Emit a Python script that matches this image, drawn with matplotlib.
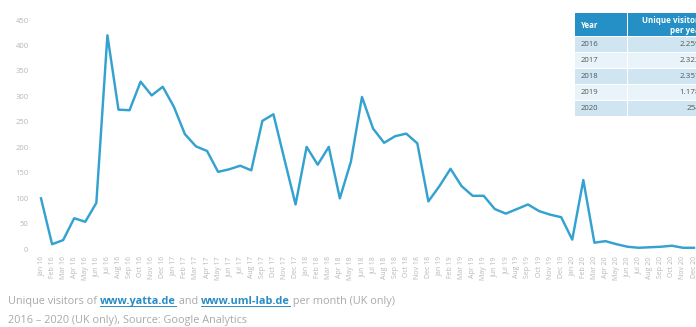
import matplotlib
matplotlib.use("Agg")
import matplotlib.pyplot as plt
from matplotlib.patches import Rectangle
from matplotlib.lines import Line2D

# ---------------- data ----------------
month_labels = [
    "Jan 16", "Feb 16", "Mar 16", "Apr 16", "May 16", "Jun 16", "Jul 16", "Aug 16", "Sep 16", "Oct 16", "Nov 16", "Dec 16",
    "Jan 17", "Feb 17", "Mar 17", "Apr 17", "May 17", "Jun 17", "Jul 17", "Aug 17", "Sep 17", "Oct 17", "Nov 17", "Dec 17",
    "Jan 18", "Feb 18", "Mar 18", "Apr 18", "May 18", "Jun 18", "Jul 18", "Aug 18", "Sep 18", "Oct 18", "Nov 18", "Dec 18",
    "Jan 19", "Feb 19", "Mar 19", "Apr 19", "May 19", "Jun 19", "Jul 19", "Aug 19", "Sep 19", "Oct 19", "Nov 19", "Dec 19",
    "Jan 20", "Feb 20", "Mar 20", "Apr 20", "May 20", "Jun 20", "Jul 20", "Aug 20", "Sep 20", "Oct 20", "Nov 20", "Dec 20",
]
visitors = [
    100, 10, 18, 61, 54, 91, 420, 274, 273, 329, 302, 319,
    280, 226, 202, 193, 152, 157, 164, 155, 252, 265, 176, 88,
    201, 166, 201, 100, 172, 299, 237, 209, 222, 227, 208, 94,
    124, 158, 124, 105, 105, 79, 70, 79, 88, 75, 68, 63,
    19, 136, 13, 16, 10, 5, 3, 4, 5, 7, 3, 3,
]
y_ticks = [0, 50, 100, 150, 200, 250, 300, 350, 400, 450]
table_header = ["Year", "Unique visitors\nper year"]
table_years = ["2016", "2017", "2018", "2019", "2020"]
table_values = ["2.259", "2.322", "2.357", "1.178", "254"]
caption_line1 = [("Unique visitors of ", False), ("www.yatta.de", True), (" and ", False),
                 ("www.uml-lab.de", True), (" per month (UK only)", False)]
caption_line2 = "2016 \u2013 2020 (UK only), Source: Google Analytics"

# ---------------- style ----------------
W, H = 696, 327
FONT = "Open Sans"
LINE_C = "#34a2d0"
TICK_C = "#b8b8b8"
CAP_C = "#a9a9a9"
LINK_C = "#2a8cc4"

plt.rcParams["font.family"] = [FONT, "DejaVu Sans"]

fig = plt.figure(figsize=(W / 100, H / 100), dpi=100)
fig.patch.set_facecolor("white")


def fx(x):
    return x / W


def fy(y):
    return 1 - y / H


x_left, x_right = 41, 694
y_top, y_bot = 20.0, 249.3
ax = fig.add_axes([fx(x_left), fy(y_bot), (x_right - x_left) / W, (y_bot - y_top) / H])
xs = list(range(len(visitors)))
ax.plot(xs, visitors, color=LINE_C, lw=1.75, clip_on=False, solid_joinstyle="round")
ax.set_xlim(0, len(visitors) - 1)
ax.set_ylim(0, 450)
for s in ax.spines.values():
    s.set_visible(False)
ax.set_yticks(y_ticks)
ax.set_yticklabels([str(v) for v in y_ticks])
ax.set_xticks(xs)
ax.set_xticklabels(month_labels, rotation=90)
ax.tick_params(axis="y", length=0, pad=9, labelsize=5.5, labelcolor=TICK_C)
ax.tick_params(axis="x", length=0, pad=5, labelsize=5.0, labelcolor=TICK_C)
ax.set_facecolor("none")

# ---------------- table ----------------
tx0, tsplit, tx1 = 575, 627.5, 712
hdr_top, hdr_bot = 13, 36
row_h = 16
hdr_c = "#2590c5"
row_cs = ["#cfe6f2", "#e9f4fa"]
fig.add_artist(Rectangle((fx(tx0), fy(hdr_bot)), (tsplit - tx0 - 0.5) / W, (hdr_bot - hdr_top) / H,
                         transform=fig.transFigure, facecolor=hdr_c, edgecolor="none"))
fig.add_artist(Rectangle((fx(tsplit + 0.5), fy(hdr_bot)), (tx1 - tsplit) / W, (hdr_bot - hdr_top) / H,
                         transform=fig.transFigure, facecolor=hdr_c, edgecolor="none"))
fig.text(fx(581), fy(25), table_header[0], color="white", fontsize=5.6, fontweight="bold",
         ha="left", va="center")
fig.text(fx(703), fy(25.5), table_header[1], color="white", fontsize=5.8, fontweight="bold",
         ha="right", va="center", multialignment="right", linespacing=1.1)
for i, (yr, val) in enumerate(zip(table_years, table_values)):
    top = hdr_bot + 1 + i * row_h
    c = row_cs[i % 2]
    fig.add_artist(Rectangle((fx(tx0), fy(top + row_h - 1)), (tsplit - tx0 - 0.5) / W, (row_h - 1) / H,
                             transform=fig.transFigure, facecolor=c, edgecolor="none"))
    fig.add_artist(Rectangle((fx(tsplit + 0.5), fy(top + row_h - 1)), (tx1 - tsplit) / W, (row_h - 1) / H,
                             transform=fig.transFigure, facecolor=c, edgecolor="none"))
    yc = top + (row_h - 1) / 2
    fig.text(fx(581), fy(yc), yr, color="#555555", fontsize=5.6, ha="left", va="center")
    fig.text(fx(700), fy(yc), val, color="#555555", fontsize=5.8, ha="right", va="center")

# ---------------- caption ----------------
renderer = fig.canvas.get_renderer()
cx = 8
cap_fs = 7.8
y1 = 304
for txt, link in caption_line1:
    t = fig.text(fx(cx), fy(y1), txt, fontsize=cap_fs, ha="left", va="baseline",
                 color=LINK_C if link else CAP_C, fontweight="bold" if link else "normal")
    bb = t.get_window_extent(renderer)
    if link:
        fig.add_artist(Line2D([bb.x0 / W, bb.x1 / W], [fy(y1 + 2), fy(y1 + 2)],
                              transform=fig.transFigure, color=LINK_C, lw=0.7))
    cx += bb.width
fig.text(fx(8), fy(323), caption_line2, fontsize=cap_fs, ha="left", va="baseline", color=CAP_C)

fig.savefig("out.png", dpi=100, facecolor="white")
